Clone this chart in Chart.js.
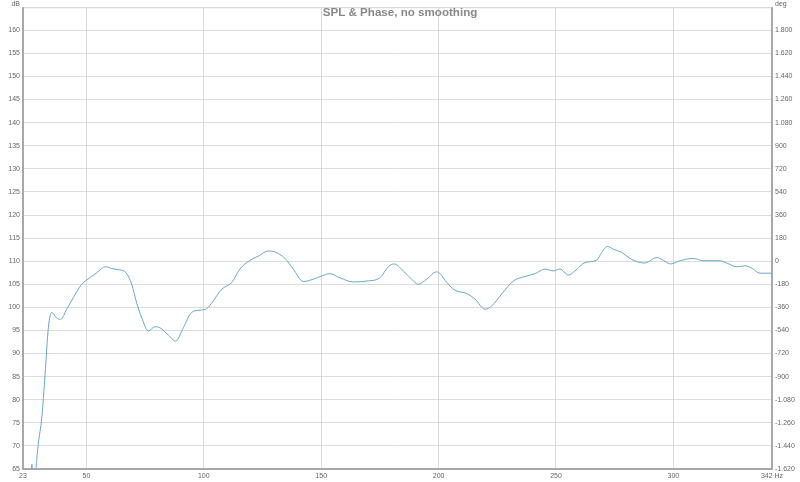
<!DOCTYPE html>
<html>
<head>
<meta charset="utf-8">
<script src="https://cdn.jsdelivr.net/npm/chart.js@4.4.1/dist/chart.umd.min.js"></script>
<style>
html,body{margin:0;padding:0;background:#fff;}
#wrap{width:800px;height:482px;}
</style>
</head>
<body>
<div id="wrap"><canvas id="c" width="800" height="482"></canvas></div>
<script>
const titleText = 'SPL & Phase, no smoothing';
const freqHz = [23, 26.3, 26.8, 27.3, 28.0, 28.5, 29.5, 31.0, 32.4, 33.8, 35.2, 37.3, 39.0, 41.6, 44.4, 48.0, 50.1, 54.4, 58.3, 60.8, 64.3, 66.9, 69.3, 71.4, 73.6, 76.4, 79.2, 81.3, 84.9, 88.0, 91.3, 94.8, 98.4, 101.2, 104.0, 107.6, 111.9, 115.4, 119.7, 123.2, 127.5, 130.3, 134.6, 138.1, 142.4, 146.6, 150.2, 153.7, 158.0, 163.7, 169.4, 175.0, 178.6, 181.0, 185.7, 188.5, 191.4, 194.9, 199.2, 200.6, 203.5, 207.0, 212.0, 215.5, 219.8, 222.6, 226.9, 231.8, 236.1, 241.1, 245.3, 248.9, 251.7, 255.3, 258.1, 262.4, 267.3, 269.5, 271.9, 274.4, 278.0, 281.5, 284.4, 287.9, 292.9, 295.7, 298.8, 302.8, 308.5, 312.7, 319.8, 322.7, 327.0, 330.5, 333.3, 336.9, 342];
const splDb = [58, 62, 66, 62, 62, 65, 70.4, 76.1, 85.5, 95.6, 98.9, 97.7, 97.4, 99.6, 102.1, 105.0, 105.9, 107.5, 108.8, 108.4, 108.1, 107.5, 105.0, 101.0, 97.7, 94.9, 95.8, 95.6, 94.0, 92.7, 95.6, 98.9, 99.4, 99.7, 101.4, 103.9, 105.4, 108.3, 110.2, 111.1, 112.2, 112.0, 110.6, 108.3, 105.6, 106.1, 106.8, 107.3, 106.4, 105.5, 105.7, 106.4, 108.8, 109.4, 107.5, 106.1, 105.0, 106.1, 107.7, 107.3, 105.4, 103.7, 103.0, 101.8, 99.6, 100.3, 102.9, 105.7, 106.6, 107.3, 108.3, 107.9, 108.3, 107.0, 107.9, 109.7, 110.2, 111.9, 113.2, 112.6, 111.9, 110.6, 109.9, 109.6, 110.8, 110.2, 109.4, 110.1, 110.6, 110.1, 110.1, 109.6, 108.8, 109.0, 108.5, 107.4, 107.4];
const xTicks = [23, 50, 100, 150, 200, 250, 300, 342];
const dbTicks = [65, 70, 75, 80, 85, 90, 95, 100, 105, 110, 115, 120, 125, 130, 135, 140, 145, 150, 155, 160];
const degTicks = [-1620, -1440, -1260, -1080, -900, -720, -540, -360, -180, 0, 180, 360, 540, 720, 900, 1080, 1260, 1440, 1620, 1800];

function fmtDeg(v){
  const s = Math.abs(v).toString();
  const d = s.length > 3 ? s.slice(0, -3) + '.' + s.slice(-3) : s;
  return (v < 0 ? '-' : '') + d;
}
const tickFont = {family: 'Liberation Sans', size: 7};
const tickColor = '#666';

const framePlugin = {
  id: 'frame',
  afterDraw(chart){
    const ctx = chart.ctx, a = chart.chartArea;
    ctx.save();
    ctx.strokeStyle = '#cfcfcf'; ctx.lineWidth = 1;
    ctx.beginPath(); ctx.moveTo(a.left, a.top + 0.5); ctx.lineTo(a.right, a.top + 0.5); ctx.stroke();
    ctx.strokeStyle = '#a8a8a8'; ctx.lineWidth = 2;
    ctx.beginPath();
    ctx.moveTo(a.left, a.top); ctx.lineTo(a.left, a.bottom); ctx.lineTo(a.right, a.bottom); ctx.lineTo(a.right, a.top);
    ctx.stroke();
    ctx.fillStyle = '#888';
    ctx.font = 'bold 11.6px "Liberation Sans"';
    ctx.textAlign = 'center'; ctx.textBaseline = 'middle';
    ctx.fillText(titleText, 400, 13);
    ctx.fillStyle = tickColor;
    ctx.font = '7px "Liberation Sans"';
    ctx.textAlign = 'right'; ctx.textBaseline = 'top';
    ctx.fillText('dB', 20, 1);
    ctx.textAlign = 'left';
    ctx.fillText('deg', 775, 1);
    ctx.restore();
  }
};

new Chart(document.getElementById('c'), {
  type: 'line',
  data: {
    datasets: [{
      data: freqHz.map((f, i) => ({x: f, y: splDb[i]})),
      borderColor: '#69a7cb',
      borderWidth: 1,
      pointRadius: 0,
      cubicInterpolationMode: 'monotone',
      yAxisID: 'y'
    }]
  },
  options: {
    responsive: false,
    animation: false,
    layout: {padding: {top: 6, left: 0, right: 0, bottom: 0}},
    plugins: {legend: {display: false}, tooltip: {enabled: false}, title: {display: false}},
    scales: {
      x: {
        type: 'linear', min: 23, max: 342,
        afterFit(s){ s.height = 13; },
        afterBuildTicks(s){ s.ticks = xTicks.map(v => ({value: v})); },
        grid: {color: '#dcdcdc', drawTicks: false},
        border: {display: false},
        ticks: {
          autoSkip: false, maxRotation: 0, padding: 3, font: tickFont, color: tickColor,
          callback: v => v === 342 ? '342 Hz' : String(v)
        }
      },
      y: {
        position: 'left', min: 65, max: 165,
        afterFit(s){ s.width = 23; },
        afterBuildTicks(s){ s.ticks = dbTicks.map(v => ({value: v})); },
        grid: {color: '#dcdcdc', drawTicks: false},
        border: {display: false},
        ticks: {padding: 3, font: tickFont, color: tickColor}
      },
      y2: {
        position: 'right', min: -1620, max: 1980,
        afterFit(s){ s.width = 28; },
        afterBuildTicks(s){ s.ticks = degTicks.map(v => ({value: v})); },
        grid: {display: false, drawTicks: false},
        border: {display: false},
        ticks: {padding: 3, font: tickFont, color: tickColor, callback: v => fmtDeg(v)}
      }
    }
  },
  plugins: [framePlugin]
});
</script>
</body>
</html>
